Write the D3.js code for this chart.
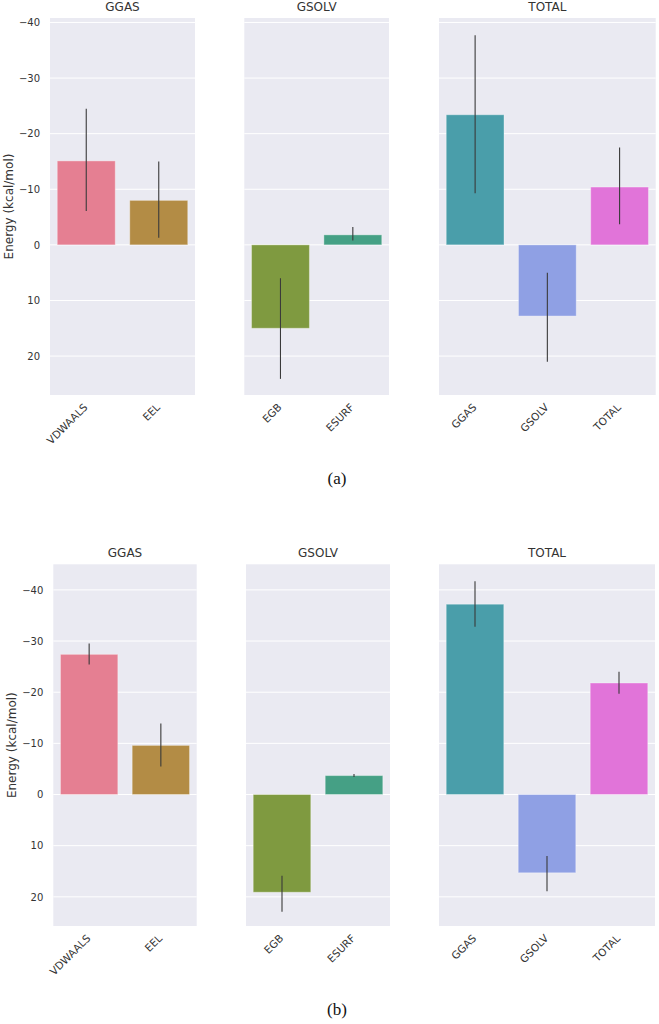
<!DOCTYPE html>
<html><head><meta charset="utf-8">
<script src="https://cdn.jsdelivr.net/npm/d3@7"></script>
<style>body{margin:0;background:#fff}svg{display:block}</style>
</head><body>
<script>
// ---------- data ----------
const panelTitles = ["GGAS", "GSOLV", "TOTAL"];
const catsGGAS  = ["VDWAALS", "EEL"];
const catsGSOLV = ["EGB", "ESURF"];
const catsTOTAL = ["GGAS", "GSOLV", "TOTAL"];
const yTicks = [-40, -30, -20, -10, 0, 10, 20];
const yLabel = "Energy (kcal/mol)";
const captions = ["(a)", "(b)"];

// figure (a)
const aGGAS  = [-15.1, -8.0];
const aGSOLV = [15.0, -1.8];
const aTOTAL = [-23.4, 12.8, -10.4];
const aErrGGAS  = [[-24.5, -6.1], [-15.0, -1.3]];
const aErrGSOLV = [[6.0, 24.1], [-3.2, -0.8]];
const aErrTOTAL = [[-37.7, -9.3], [5.0, 21.0], [-17.5, -3.7]];
const aDomain = [-40.8, 27.0];

// figure (b)
const bGGAS  = [-27.4, -9.6];
const bGSOLV = [19.1, -3.7];
const bTOTAL = [-37.2, 15.3, -21.8];
const bErrGGAS  = [[-29.5, -25.4], [-13.9, -5.5]];
const bErrGSOLV = [[15.9, 22.9], [-4.0, -3.4]];
const bErrTOTAL = [[-41.7, -32.8], [12.0, 18.9], [-24.0, -19.7]];
const bDomain = [-45.0, 25.7];

const colorsGGAS  = ["#e57f92", "#b38c45"];
const colorsGSOLV = ["#7f9a40", "#45a085"];
const colorsTOTAL = ["#4a9eaa", "#8fa0e4", "#e174d9"];

// ---------- layout ----------
const W = 659, H = 1024;
const svg = d3.select("body").append("svg").attr("width", W).attr("height", H)
  .style("font-family", "'DejaVu Sans', sans-serif");

const figs = [
  { top: 18, bottom: 395, panels: [[50, 195], [244.3, 389], [439, 655.7]], domain: aDomain,
    vals: [aGGAS, aGSOLV, aTOTAL], errs: [aErrGGAS, aErrGSOLV, aErrTOTAL], capY: 484 },
  { top: 564.3, bottom: 926, panels: [[53.3, 196.7], [246, 390], [439, 655]], domain: bDomain,
    vals: [bGGAS, bGSOLV, bTOTAL], errs: [bErrGGAS, bErrGSOLV, bErrTOTAL], capY: 1015 }
];
const cats = [catsGGAS, catsGSOLV, catsTOTAL];
const cols = [colorsGGAS, colorsGSOLV, colorsTOTAL];
const textCol = "#333333";

figs.forEach((f, fi) => {
  const y = d3.scaleLinear().domain(f.domain).range([f.top, f.bottom]);
  f.panels.forEach((pr, pi) => {
    const g = svg.append("g");
    const x = d3.scaleBand().domain(cats[pi]).range(pr).paddingInner(0.2).paddingOuter(0.1);
    g.append("rect").attr("x", pr[0]).attr("y", f.top).attr("width", pr[1] - pr[0])
      .attr("height", f.bottom - f.top).attr("fill", "#eaeaf2");
    // gridlines
    g.selectAll("line.grid").data(yTicks).join("line")
      .attr("x1", pr[0]).attr("x2", pr[1])
      .attr("y1", d => y(d)).attr("y2", d => y(d))
      .attr("stroke", "#fff").attr("stroke-width", 1);
    // bars
    g.selectAll("rect.bar").data(f.vals[pi]).join("rect")
      .attr("x", (d, i) => x(cats[pi][i]))
      .attr("width", x.bandwidth())
      .attr("y", d => Math.min(y(0), y(d)))
      .attr("height", d => Math.abs(y(d) - y(0)))
      .attr("fill", (d, i) => cols[pi][i])
      .attr("stroke", "rgba(255,255,255,0.35)").attr("stroke-width", 1);
    // error bars
    g.selectAll("line.err").data(f.errs[pi]).join("line")
      .attr("x1", (d, i) => x(cats[pi][i]) + x.bandwidth() / 2)
      .attr("x2", (d, i) => x(cats[pi][i]) + x.bandwidth() / 2)
      .attr("y1", d => y(d[0])).attr("y2", d => y(d[1]))
      .attr("stroke", "#3a3a3a").attr("stroke-width", 1.1);
    // title
    g.append("text").attr("x", (pr[0] + pr[1]) / 2).attr("y", f.top - 7)
      .attr("text-anchor", "middle").attr("font-size", 12).attr("fill", textCol)
      .text(panelTitles[pi]);
    // x tick labels
    g.selectAll("text.xt").data(cats[pi]).join("text")
      .attr("text-anchor", "end").attr("font-size", 10.5).attr("fill", textCol)
      .attr("transform", d => `translate(${x(d) + x.bandwidth() / 2 + 2},${f.bottom + 13}) rotate(-45)`)
      .text(d => d);
    // y axis (first panel only)
    if (pi === 0) {
      const ax = g.append("g").attr("transform", `translate(${pr[0]},0)`)
        .call(d3.axisLeft(y).tickValues(yTicks).tickSize(0).tickPadding(10)
          .tickFormat(d => d < 0 ? "\u2212" + Math.abs(d) : String(d)));
      ax.select(".domain").remove();
      ax.selectAll("text").attr("font-size", 10).attr("fill", textCol)
        .style("font-family", "'DejaVu Sans', sans-serif");
      g.append("text").attr("transform", `translate(${pr[0] - 37},${(f.top + f.bottom) / 2}) rotate(-90)`)
        .attr("text-anchor", "middle").attr("font-size", 12).attr("fill", textCol)
        .text(yLabel);
    }
  });
  svg.append("text").attr("x", 337).attr("y", f.capY).attr("text-anchor", "middle")
    .attr("font-family", "'Liberation Serif', serif").attr("font-size", 17).attr("fill", "#111")
    .text(captions[fi]);
});
</script>
</body></html>
